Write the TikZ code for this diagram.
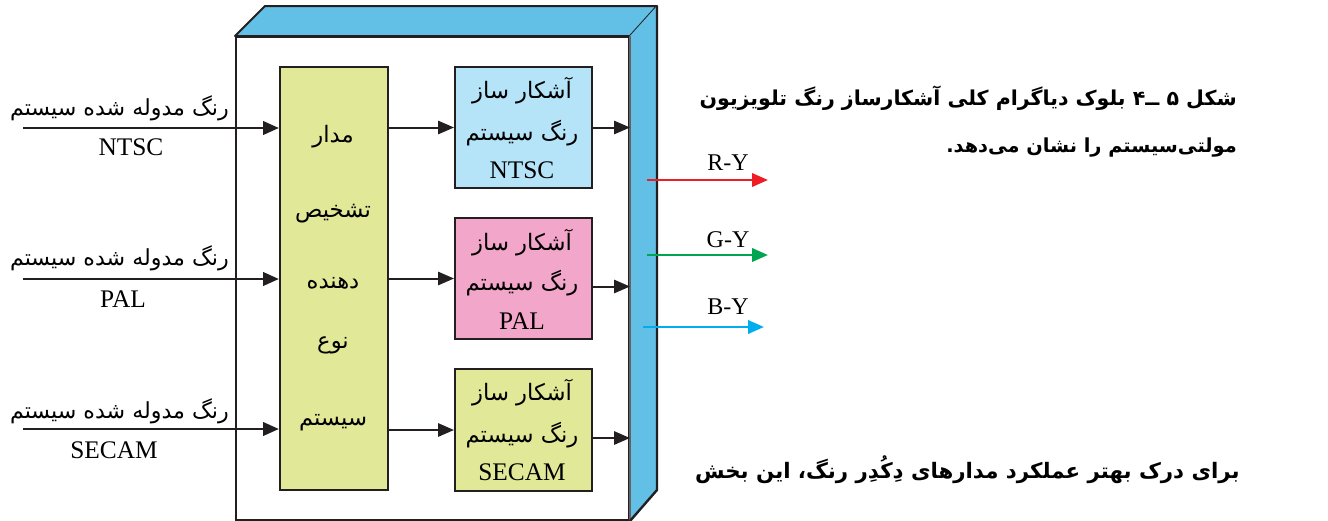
\documentclass[tikz,border=0pt]{standalone}
\usepackage{fontspec}
\setmainfont{Liberation Serif}
\newfontfamily\fa[Script=Arabic]{DejaVu Sans}
\TeXXeTstate=1
\usetikzlibrary{arrows.meta}
\definecolor{yelfill}{HTML}{E1E897}
\definecolor{lbluefill}{HTML}{B5E4F8}
\definecolor{pinkfill}{HTML}{F2A6C9}
\definecolor{sidefill}{HTML}{62C0E6}
\definecolor{rcol}{HTML}{EE1C25}
\definecolor{gcol}{HTML}{00A551}
\definecolor{bcol}{HTML}{00AEEF}
\definecolor{edge}{HTML}{231F20}
\begin{document}
\begin{tikzpicture}[x=0.75pt,y=-0.75pt,
  box/.style={draw=edge, line width=1.5pt, inner sep=0pt, anchor=north west},
  fatext/.style={font=\fa\fontsize{17}{19}\selectfont, inner sep=0pt},
  intext/.style={font=\fa\fontsize{16.6}{19}\selectfont, inner sep=0pt, anchor=base east},
  latext/.style={font=\fontsize{19}{21}\selectfont, inner sep=0pt, anchor=base},
  capt/.style={font=\fa\bfseries\fontsize{15.4}{18}\selectfont, inner sep=0pt, anchor=base east},
  arr/.style={draw=edge, line width=1.5pt, -{Triangle[length=12pt,width=10pt]}},
  inarr/.style={draw=edge, line width=2.2pt, -{Triangle[length=12pt,width=10pt]}},
  outarr/.style={line width=2pt, -{Triangle[length=12pt,width=10pt]}}]
\useasboundingbox (0,0) rectangle (1328,521);

% 3D housing
\node[box, fill=white, minimum width=393*0.75pt, minimum height=483*0.75pt] (front) at (235,36) {};
\filldraw[fill=sidefill, draw=edge, line width=1.5pt, line join=round]
  (front.north west) -- (265,6) -- (657,6) -- (front.north east) -- cycle;
\fill[sidefill] (front.north east) -- (657,6) -- (657,490) -- (front.south east) -- cycle;
\draw[edge!70, line width=0.8pt] (front.north east) -- (front.south east);
\draw[edge, line width=1.8pt, line join=round] (657,6) -- (657,490) -- (front.south east);

% mode detector
\node[box, fill=yelfill, minimum width=108*0.75pt, minimum height=423*0.75pt] (mode) at (279,66) {};
\node[fatext, anchor=base] (m1) at (333,142) {\beginR مدار\endR};
\node[fatext, anchor=base] (m2) at (333,217) {\beginR تشخیص\endR};
\node[fatext, anchor=base] (m3) at (333,288) {\beginR دهنده\endR};
\node[fatext, anchor=base] (m4) at (333,348) {\beginR نوع\endR};
\node[fatext, anchor=base] (m5) at (333,425) {\beginR سیستم\endR};

% decoders
\node[box, fill=lbluefill, minimum width=137*0.75pt, minimum height=121*0.75pt] (ntsc) at (454,66) {};
\node[box, fill=pinkfill, minimum width=137*0.75pt, minimum height=121*0.75pt] (pal) at (454,217) {};
\node[box, fill=yelfill, minimum width=137*0.75pt, minimum height=122*0.75pt] (secam) at (454,368) {};

\node[fatext, anchor=base] (n1) at (522,98) {\beginR آشکار ساز\endR};
\node[fatext, anchor=base] (n2) at (522,140) {\beginR رنگ سیستم\endR};
\node[latext] (n3) at (522,178) {NTSC};
\node[fatext, anchor=base] (p1) at (522,250) {\beginR آشکار ساز\endR};
\node[fatext, anchor=base] (p2) at (522,290) {\beginR رنگ سیستم\endR};
\node[latext] (p3) at (522,329) {PAL};
\node[fatext, anchor=base] (s1) at (522,400) {\beginR آشکار ساز\endR};
\node[fatext, anchor=base] (s2) at (522,442) {\beginR رنگ سیستم\endR};
\node[latext] (s3) at (522,480) {SECAM};

% inputs
\coordinate (i1) at (23,128);
\coordinate (i2) at (23,279);
\coordinate (i3) at (23,429);
\draw[inarr] (i1) -- (i1 -| mode.west);
\draw[inarr] (i2) -- (i2 -| mode.west);
\draw[inarr] (i3) -- (i3 -| mode.west);
\node[intext] (l1) at (229,115) {\beginR رنگ مدوله شده سیستم\endR};
\node[intext] (l2) at (229,265) {\beginR رنگ مدوله شده سیستم\endR};
\node[intext] (l3) at (229,418) {\beginR رنگ مدوله شده سیستم\endR};
\node[latext] (t1) at (131,155) {NTSC};
\node[latext] (t2) at (123,307) {PAL};
\node[latext] (t3) at (114,458) {SECAM};

% internal arrows
\draw[arr] (mode.east |- ntsc.west) -- (ntsc.west);
\draw[arr] (mode.east |- pal.west) -- (pal.west);
\draw[arr] (mode.east |- secam.west) -- (secam.west);
\coordinate (no) at (ntsc.east);
\coordinate (po) at ([yshift=-8*0.75pt]pal.east);
\coordinate (so) at ([yshift=-8*0.75pt]secam.east);
\draw[arr] (no) -- (no -| front.east);
\draw[arr] (po) -- (po -| front.east);
\draw[arr] (so) -- (so -| front.east);

% outputs
\coordinate (r0) at (647,180); \coordinate (r1) at (768,180);
\coordinate (g0) at (647,255); \coordinate (g1) at (768,255);
\coordinate (b0) at (643,327); \coordinate (b1) at (764,327);
\draw[outarr, rcol] (r0) -- (r1);
\draw[outarr, gcol] (g0) -- (g1);
\draw[outarr, bcol] (b0) -- (b1);
\node[latext, font=\fontsize{18}{20}\selectfont] (ry) at (728,170) {R-Y};
\node[latext, font=\fontsize{18}{20}\selectfont] (gy) at (728,247) {G-Y};
\node[latext, font=\fontsize{18}{20}\selectfont] (by) at (728,314) {B-Y};

% caption
\node[capt] (c1) at (1237,105) {\beginR شکل ۵ ــ۴ بلوک دیاگرام کلی آشکارساز رنگ تلویزیون\endR};
\node[capt, font=\fa\bfseries\fontsize{14.5}{17}\selectfont] (c2) at (1237,152) {\beginR مولتی‌سیستم را نشان می‌دهد.\endR};
\node[capt, font=\fa\bfseries\fontsize{16}{18}\selectfont] (c3) at (1240,478) {\beginR برای درک بهتر عملکرد مدارهای دِکُدِر رنگ، این بخش\endR};
\end{tikzpicture}
\end{document}
